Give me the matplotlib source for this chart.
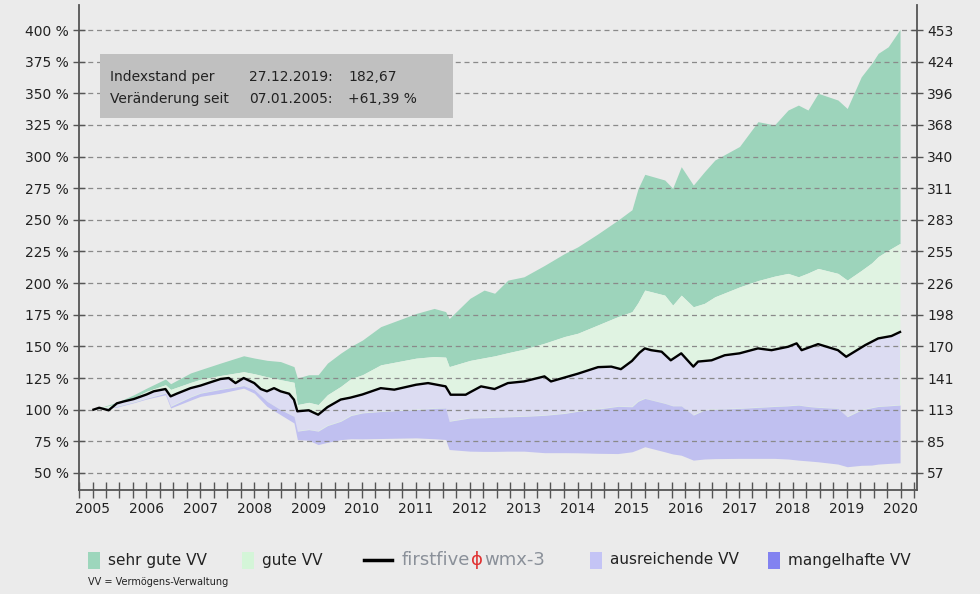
import matplotlib
matplotlib.use('Agg')
import matplotlib.pyplot as plt
import matplotlib.dates as mdates
from matplotlib.patches import Rectangle
from matplotlib.lines import Line2D
from matplotlib.ticker import FuncFormatter
import pandas as pd

# peer group bands (VV = Vermoegens-Verwaltung), values in % of start
band_dates = ['2005-01-07', '2005-06-15', '2005-10-08', '2006-01-02', '2006-05-10', '2006-06-14',
              '2006-10-27', '2007-01-02', '2007-05-18', '2007-10-22', '2008-01-02', '2008-03-28',
              '2008-06-28', '2008-09-27', '2008-10-20', '2009-01-05', '2009-03-10', '2009-05-12',
              '2009-08-10', '2009-10-18', '2010-01-04', '2010-05-08', '2011-01-03', '2011-05-05',
              '2011-07-22', '2011-08-15', '2012-01-03', '2012-04-08', '2012-06-18', '2012-09-16',
              '2013-01-03', '2013-05-22', '2013-10-05', '2014-01-03', '2014-05-20', '2014-10-01',
              '2015-01-05', '2015-02-15', '2015-04-02', '2015-08-15', '2015-10-08', '2015-12-05',
              '2016-02-25', '2016-05-10', '2016-07-20', '2017-01-03', '2017-05-08', '2017-08-28',
              '2017-11-28', '2018-02-06', '2018-04-12', '2018-06-20', '2018-11-01', '2019-01-03',
              '2019-04-08', '2019-06-18', '2019-08-01', '2019-10-08', '2019-12-27']
sehr_gute_top = [100, 105.8, 111.8, 117, 124.2, 120.5,
                 129, 131.6, 136.8, 142.6, 140.8, 139,
                 138, 134, 125, 127.6, 127.6, 136.8,
                 144.7, 150, 155, 165.6, 176, 180,
                 177.5, 172, 188, 194.5, 192, 202.4,
                 205, 214, 223.4, 228.7, 239, 249.7,
                 258, 274.6, 286, 281.5, 275, 292,
                 277.5, 288, 297.3, 308, 327.6, 325,
                 336.8, 340.7, 336.8, 350, 344.7, 338,
                 363, 373.7, 381.6, 386.8, 400.5]
gute_top = [100, 104.7, 109.5, 114.5, 119.7, 116,
            121.5, 124, 127, 130, 128.4, 126,
            123.7, 121.6, 104, 105.8, 104, 111.8,
            118.4, 124.5, 127.6, 135.4, 140.7, 142,
            141.5, 134, 138.9, 141, 142.5, 145,
            147.8, 152.5, 157.8, 160.4, 167, 173.5,
            177.4, 184.6, 194.5, 190.5, 182.6, 190.5,
            181.3, 184, 189.2, 197, 202, 205.5,
            207.7, 205, 208, 211.6, 207.7, 202.4,
            210, 216, 221, 226, 231.4]
mangelhafte_top = [100, 102.6, 106, 109, 113, 102.6,
                   110, 113, 116, 119, 115.8, 106.6,
                   100, 94.7, 83, 84.2, 83, 87.4,
                   90.8, 95.3, 97.4, 98.5, 100, 101,
                   101.3, 90.8, 93.4, 93.6, 94, 94.3,
                   94.7, 95.5, 97, 98.7, 100.5, 102.6,
                   102.3, 106.6, 108.9, 105, 103, 103,
                   95.7, 99.7, 100.3, 101, 101.8, 102.5,
                   103, 103.6, 102.5, 101.8, 101, 94.4,
                   99.7, 101.5, 102.5, 103, 103.6]
mangelhafte_bottom = [100, 102, 105.5, 108.4, 111.8, 101.3,
                      107.5, 110.5, 113, 117, 113, 102.6,
                      96, 89.5, 76.3, 75.8, 72.4, 74.2,
                      76.3, 77, 76.9, 77.2, 77.7, 77,
                      76.4, 68.5, 67.2, 67, 67, 67.2,
                      67.2, 66, 66, 65.9, 65.5, 65.3,
                      66.7, 68.5, 70.7, 66.7, 65, 64,
                      60.1, 61, 61.3, 61.5, 61.5, 61.5,
                      61, 60.1, 59.5, 58.8, 57, 54.9,
                      56, 56.2, 57, 57.5, 58]

# firstfive wmx-3 index, in % of start
index_dates = ['2005-01-07', '2005-02-15', '2005-04-20', '2005-06-15', '2005-08-01', '2005-10-08',
               '2005-11-15', '2006-01-02', '2006-02-20', '2006-05-10', '2006-06-14', '2006-07-25',
               '2006-10-27', '2007-01-02', '2007-03-10', '2007-05-18', '2007-07-13', '2007-08-28',
               '2007-10-22', '2008-01-02', '2008-02-15', '2008-03-28', '2008-05-15', '2008-06-28',
               '2008-08-25', '2008-09-27', '2008-10-20', '2009-01-05', '2009-03-10', '2009-05-12',
               '2009-08-10', '2009-10-15', '2010-01-04', '2010-05-08', '2010-08-08', '2011-01-03',
               '2011-03-25', '2011-07-22', '2011-08-25', '2011-12-05', '2012-01-03', '2012-03-18',
               '2012-06-18', '2012-09-16', '2013-01-03', '2013-05-22', '2013-07-05', '2014-01-03',
               '2014-05-20', '2014-08-18', '2014-10-22', '2015-01-05', '2015-02-25', '2015-04-02',
               '2015-05-15', '2015-07-25', '2015-09-25', '2015-12-05', '2016-02-25', '2016-03-28',
               '2016-06-28', '2016-09-25', '2017-01-03', '2017-05-08', '2017-08-08', '2017-11-28',
               '2018-01-25', '2018-02-28', '2018-06-20', '2018-11-01', '2018-12-27', '2019-05-05',
               '2019-08-01', '2019-10-30', '2019-12-27']
index_values = [100, 101.5, 99.5, 105, 106.5, 108.4,
                110, 112, 114.5, 116.3, 110.5, 112.6,
                117, 119, 121.6, 124.2, 125, 121,
                125, 121, 116.3, 114.5, 117, 114.5,
                112.6, 107.9, 98.7, 99.5, 96, 102,
                108, 109.5, 112, 117, 115.8, 119.7,
                121, 118.4, 111.8, 111.8, 113.7, 118.4,
                116.3, 121, 122.3, 126.3, 122.3, 128.4,
                133.6, 134, 132, 138.5, 145, 148.4,
                147, 145.8, 139, 144.5, 134, 138,
                139, 143, 144.5, 148.4, 147, 149.7,
                152.4, 147, 151.8, 147, 141.8, 151,
                156.3, 158.2, 161.39]

pct_ticks = [50, 75, 100, 125, 150, 175, 200, 225, 250, 275, 300, 325, 350, 375, 400]
index_factor = 182.67 / 161.39

bg = '#ebebeb'
axis_col = '#555555'
W, H = 980, 594

fig = plt.figure(figsize=(W / 100, H / 100), dpi=100, facecolor=bg)
ax = fig.add_axes([79 / W, 1 - 490 / H, (917 - 79) / W, (490 - 5) / H], facecolor=bg)

bd = pd.to_datetime(band_dates)
idx = pd.to_datetime(index_dates)

ax.fill_between(bd, sehr_gute_top, gute_top, color='#9dd4bb', lw=0)
light = ax.fill_between(bd, gute_top, mangelhafte_top, color='#e0f3e2', lw=0)
# below the index line the middle band turns lavender ("ausreichende VV")
lav = ax.fill_between(idx, index_values, 0, color='#dcdcf2', lw=0)
lav.set_clip_path(light.get_paths()[0], ax.transData)
ax.fill_between(bd, mangelhafte_top, mangelhafte_bottom, color='#c0c0f0', lw=0)
ax.plot(idx, index_values, color='black', lw=1.7, zorder=3)

ylim = (36.5, 419.8)
ax.set_ylim(ylim)
ax.set_xlim(pd.Timestamp('2004-10-01'), pd.Timestamp('2020-04-20'))
ax.set_yticks(pct_ticks)
ax.yaxis.set_major_formatter(FuncFormatter(lambda v, p: '%d %%' % v))
ax.set_axisbelow(False)
ax.yaxis.grid(True, ls=(0, (4, 3)), color='#8a8a8a', lw=0.9)

ax.xaxis.set_major_locator(mdates.YearLocator())
ax.xaxis.set_major_formatter(mdates.DateFormatter('%Y'))
ax.xaxis.set_minor_locator(mdates.MonthLocator(bymonth=[4, 7, 10]))

# right axis: index points
ax2 = ax.twinx()
ax2.set_ylim(ylim[0] * index_factor, ylim[1] * index_factor)
ax2.set_yticks([t * index_factor for t in pct_ticks])
ax2.set_yticklabels(['%d' % round(t * index_factor) for t in pct_ticks])

for a in (ax, ax2):
    for s in a.spines.values():
        s.set_visible(False)
    a.tick_params(which='both', direction='inout', length=9, width=1, color=axis_col,
                  labelsize=10, labelcolor='#222222')
ax.spines['left'].set_visible(True)
ax.spines['bottom'].set_visible(True)
ax2.spines['right'].set_visible(True)
for s in (ax.spines['left'], ax.spines['bottom'], ax2.spines['right']):
    s.set_color(axis_col)
    s.set_linewidth(1.3)
ax.tick_params(axis='x', which='both', length=11, pad=3)
ax.tick_params(axis='y', pad=3)
ax2.tick_params(axis='y', pad=3)

# info box
fig.patches.append(Rectangle((100 / W, 1 - 118 / H), 353 / W, 64 / H, transform=fig.transFigure,
                             facecolor='#c0c0c0', edgecolor='none', zorder=5))
info_rows = [('Indexstand per', '27.12.2019:', '182,67'),
             ('Veränderung seit', '07.01.2005:', '+61,39 %')]
for i, row in enumerate(info_rows):
    yy = 1 - (77 + 22 * i) / H
    for xx, txt in zip((110, 249, 348), row):
        fig.text(xx / W, yy, txt, fontsize=10, color='#222222', va='center', ha='left', zorder=6)

# legend below the plot
leg_y = 1 - 560 / H
patch_h = 17
legend_items = [(88, '#9dd6bc', 'sehr gute VV'), (242, '#d4f5d8', 'gute VV'),
                (590, '#c4c4f5', 'ausreichende VV'), (768, '#8282f0', 'mangelhafte VV')]
for px, col, label in legend_items:
    fig.patches.append(Rectangle((px / W, leg_y - patch_h / 2 / H), 12 / W, patch_h / H,
                                 transform=fig.transFigure, facecolor=col, edgecolor='none'))
    fig.text((px + 20) / W, leg_y, label, fontsize=11, color='#222222', va='center')
fig.add_artist(Line2D([364 / W, 392 / W], [leg_y, leg_y], color='black', lw=2.5,
                      transform=fig.transFigure))

# logo text: firstfive + red symbol + wmx-3, placed one after another
renderer = fig.canvas.get_renderer()
x_px = 402
for txt, col, gap in (('firstfive', '#8a9099', 1), ('ϕ', '#e03030', 1), ('wmx-3', '#8a9099', 0)):
    t = fig.text(x_px / W, leg_y, txt, fontsize=13, color=col, va='center')
    x_px += t.get_window_extent(renderer).width + gap
fig.text(88 / W, 1 - 582 / H, 'VV = Vermögens-Verwaltung', fontsize=7, color='#222222', va='center')

plt.savefig('out.png', dpi=100, facecolor=bg)
